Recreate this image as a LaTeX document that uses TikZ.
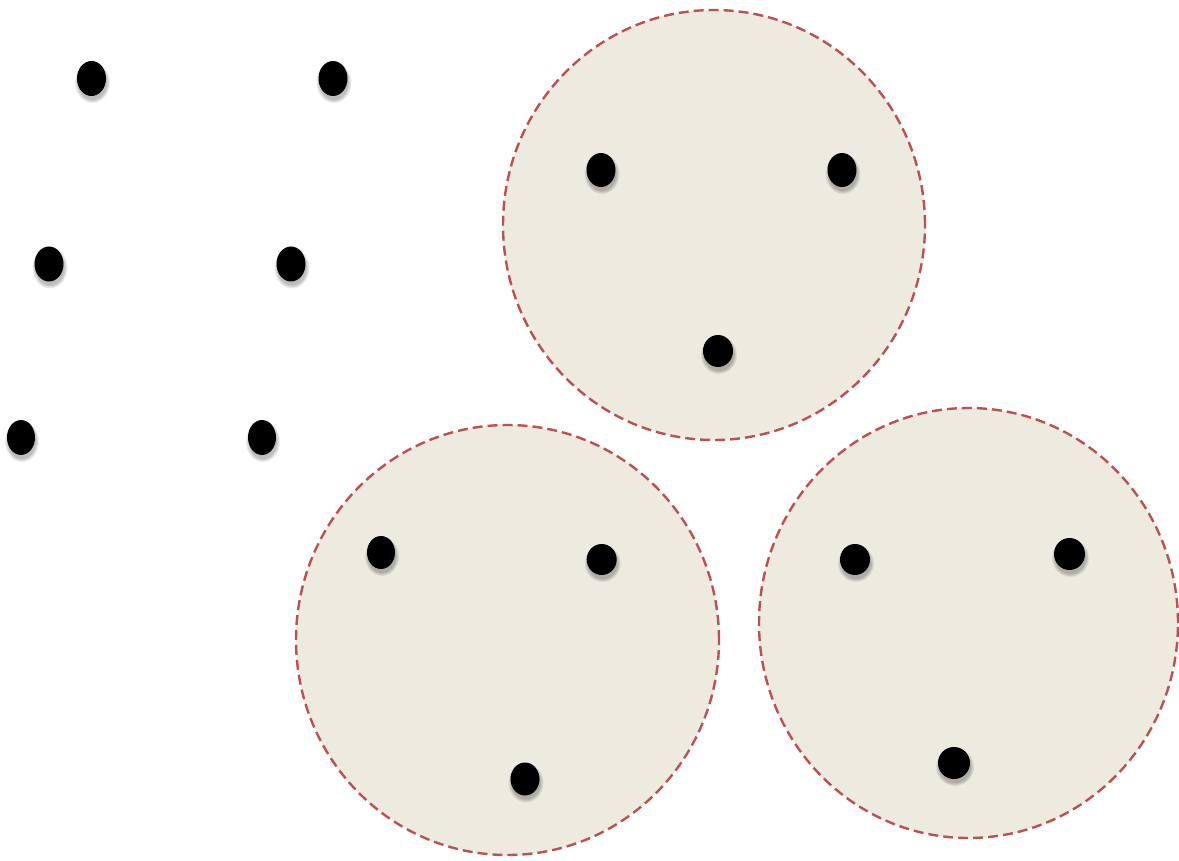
\documentclass[tikz,border=0pt]{standalone}
\usetikzlibrary{shapes.geometric}
\definecolor{zonefill}{RGB}{237,234,224}
\definecolor{zoneline}{RGB}{192,80,77}
\tikzset{
  zone/.style={ellipse, draw=zoneline, fill=zonefill, line width=2.4pt,
    dash pattern=on 10pt off 5pt, inner sep=0pt},
  blackdot/.style={ellipse, fill=black, inner sep=0pt},
  dotshade/.style={ellipse, fill=black, inner sep=0pt, opacity=0.07}
}
\newcommand{\mydot}[5]{%
  \foreach \s in {0,2,4,6}{
    \node[dotshade, minimum width=#4pt+\s pt, minimum height=#5pt+\s pt] at (#2+1,#3+4) {};
  }
  \node[blackdot, minimum width=#4pt, minimum height=#5pt] (#1) at (#2,#3) {};
}
\begin{document}
\begin{tikzpicture}[x=1pt,y=-1pt]
\useasboundingbox (0,0) rectangle (1179,861);
\node[zone, minimum width=422pt, minimum height=430pt] (ztop) at (714,225) {};
\node[zone, minimum width=423pt, minimum height=430pt] (zleft) at (507.5,640) {};
\node[zone, minimum width=419pt, minimum height=430pt] (zright) at (968.5,623) {};
% free dots
\mydot{a1}{91.5}{78.5}{29}{35}
\mydot{a2}{333}{78.5}{29}{35}
\mydot{a3}{49}{264}{29}{35}
\mydot{a4}{291}{264}{29}{35}
\mydot{a5}{21}{437.5}{28}{35}
\mydot{a6}{262}{437.5}{28}{35}
% top zone
\mydot{t1}{601}{170}{29}{34}
\mydot{t2}{842}{170}{29}{34}
\mydot{t3}{718}{351}{30}{32}
% left zone
\mydot{l1}{381}{552.5}{28}{33}
\mydot{l2}{601.7}{559.5}{30}{31}
\mydot{l3}{525}{779}{29}{33}
% right zone
\mydot{r1}{855}{559.5}{30}{31}
\mydot{r2}{1069.5}{554}{31}{32}
\mydot{r3}{954}{763}{32}{32}
\end{tikzpicture}
\end{document}
